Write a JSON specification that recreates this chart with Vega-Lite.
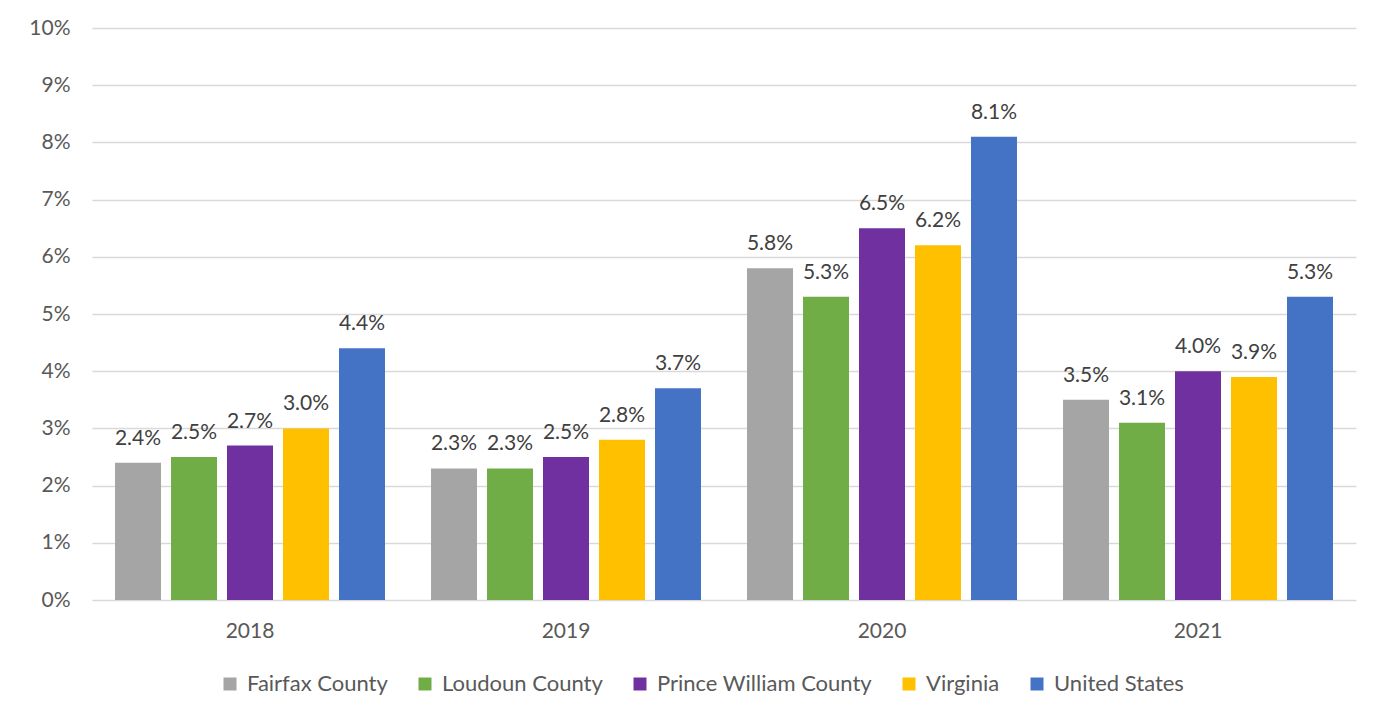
{
  "$schema": "https://vega.github.io/schema/vega-lite/v6.json",
  "width": 1264,
  "height": 572,
  "autosize": {"type": "none"},
  "padding": {"left": 92, "top": 28, "right": 38, "bottom": 119},
  "background": "white",
  "config": {
    "view": {"stroke": null},
    "font": "Lato",
    "axis": {"labelFont": "Lato", "labelColor": "#595959", "labelFontSize": 21},
    "legend": {"labelFont": "Lato", "labelColor": "#595959", "labelFontSize": 22}
  },
  "data": {
    "values": [
      {"year": "2018", "area": "Fairfax County", "rate": 0.024},
      {"year": "2018", "area": "Loudoun County", "rate": 0.025},
      {"year": "2018", "area": "Prince William County", "rate": 0.027},
      {"year": "2018", "area": "Virginia", "rate": 0.030},
      {"year": "2018", "area": "United States", "rate": 0.044},
      {"year": "2019", "area": "Fairfax County", "rate": 0.023},
      {"year": "2019", "area": "Loudoun County", "rate": 0.023},
      {"year": "2019", "area": "Prince William County", "rate": 0.025},
      {"year": "2019", "area": "Virginia", "rate": 0.028},
      {"year": "2019", "area": "United States", "rate": 0.037},
      {"year": "2020", "area": "Fairfax County", "rate": 0.058},
      {"year": "2020", "area": "Loudoun County", "rate": 0.053},
      {"year": "2020", "area": "Prince William County", "rate": 0.065},
      {"year": "2020", "area": "Virginia", "rate": 0.062},
      {"year": "2020", "area": "United States", "rate": 0.081},
      {"year": "2021", "area": "Fairfax County", "rate": 0.035},
      {"year": "2021", "area": "Loudoun County", "rate": 0.031},
      {"year": "2021", "area": "Prince William County", "rate": 0.040},
      {"year": "2021", "area": "Virginia", "rate": 0.039},
      {"year": "2021", "area": "United States", "rate": 0.053}
    ]
  },
  "encoding": {
    "x": {
      "field": "year", "type": "nominal", "title": null,
      "scale": {"paddingInner": 0, "paddingOuter": 0},
      "axis": {"labelAngle": 0, "domain": false, "ticks": false, "labelPadding": 20}
    },
    "xOffset": {
      "field": "area", "type": "nominal",
      "sort": ["Fairfax County", "Loudoun County", "Prince William County", "Virginia", "United States"],
      "scale": {"paddingInner": 0.1786, "paddingOuter": 0.411}
    },
    "y": {
      "field": "rate", "type": "quantitative", "title": null,
      "scale": {"domain": [0, 0.1], "nice": false},
      "axis": {"format": ".0%", "values": [0, 0.01, 0.02, 0.03, 0.04, 0.05, 0.06, 0.07, 0.08, 0.09, 0.1], "labelOverlap": false, "domain": false, "ticks": false, "labelPadding": 22, "gridColor": "#d9d9d9", "gridWidth": 1.5}
    }
  },
  "layer": [
    {
      "mark": {"type": "bar"},
      "encoding": {
        "color": {
          "field": "area", "type": "nominal",
          "sort": ["Fairfax County", "Loudoun County", "Prince William County", "Virginia", "United States"],
          "scale": {"domain": ["Fairfax County", "Loudoun County", "Prince William County", "Virginia", "United States"], "range": ["#A5A5A5", "#70AD47", "#7030A0", "#FFC000", "#4472C4"]},
          "legend": {"title": null, "orient": "none", "direction": "horizontal", "legendX": 127, "legendY": 645, "symbolType": "square", "symbolSize": 169, "columnPadding": 26, "labelOffset": 6, "labelLimit": 400, "symbolStrokeWidth": 0}
        }
      }
    },
    {
      "mark": {"type": "text", "baseline": "alphabetic", "dy": -18, "fontSize": 21, "color": "#404040"},
      "encoding": {
        "text": {"field": "rate", "type": "quantitative", "format": ".1%"}
      }
    }
  ]
}
